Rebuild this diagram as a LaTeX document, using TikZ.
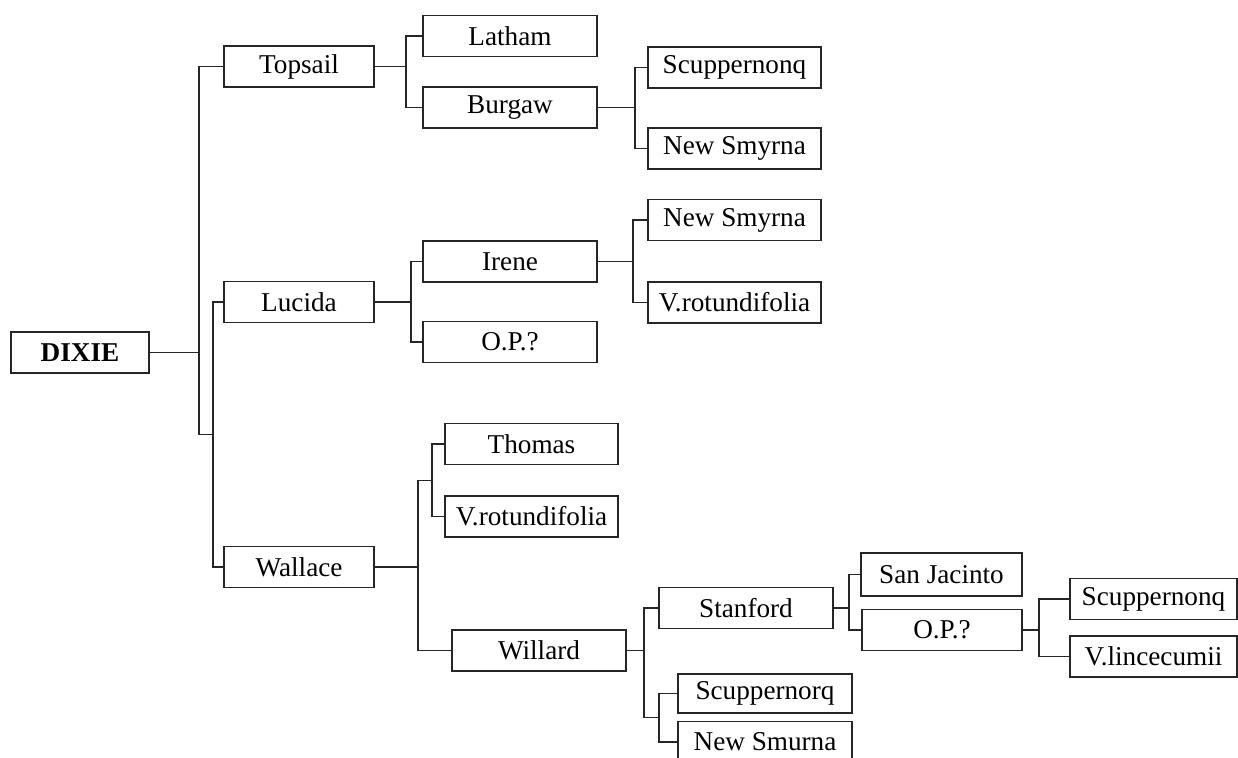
\documentclass[tikz,border=0pt]{standalone}
\usepackage{fontspec}
\setmainfont{Liberation Serif}
\begin{document}
\begin{tikzpicture}[x=0.5pt,y=-0.5pt,line width=0.65pt,draw=black!85]
      \useasboundingbox (0,0) rectangle (1238,758);
      \tikzstyle{every node} = [draw, rectangle, inner sep = 0pt, minimum height = 20.5pt, font=\fontsize{13.6}{15}\selectfont]

      \node[minimum width=69pt](dixie) at (80,352.5) {\bfseries DIXIE};

      % first generation
      \foreach \n/\y/\t in {topsail/66.5/Topsail, lucida/302/Lucida, wallace/567/Wallace}{
          \node[minimum width=75pt](\n) at (299,\y) {\t};
      }
      \foreach \n/\y/\t in {latham/36/Latham, burgaw/107.5/Burgaw, irene/261.5/Irene, op1/342/O.P.?}{
          \node[minimum width=87pt](\n) at (510,\y) {\t};
      }
      \foreach \n/\y/\t in {scup1/67.5/Scuppernonq, smyrna1/148.5/New Smyrna, smyrna2/220/New Smyrna, rotund1/302.5/V.rotundifolia}{
          \node[minimum width=86.5pt](\n) at (734.5,\y) {\t};
      }
      \foreach \n/\y/\t in {thomas/444/Thomas, rotund2/516.5/V.rotundifolia}{
          \node[minimum width=86.5pt](\n) at (531.5,\y) {\t};
      }
      \node[minimum width=87pt](willard) at (539,650.5) {Willard};
      \node[minimum width=87pt](stanford) at (746,608) {Stanford};
      \node[minimum width=87pt, minimum height=19.5pt](scup2) at (765,693.5) {Scuppernorq};
      \node[minimum width=87pt](smurna) at (765,742) {New Smurna};
      \node[minimum width=80.5pt, minimum height=21.5pt](sanjac) at (941.5,574.5) {San Jacinto};
      \node[minimum width=80pt](op2) at (942,630) {O.P.?};
      \foreach \n/\y/\t in {scup3/599/Scuppernonq, lince/656.5/V.lincecumii}{
          \node[minimum width=83.5pt](\n) at (1153.5,\y) {\t};
      }

      % bracket knees
      \coordinate (k0) at (199,434.5);
      \coordinate (k1) at (213,434.5);
      \coordinate (k2) at (406,0);
      \coordinate (k3) at (635,0);
      \coordinate (k4) at (411,0);
      \coordinate (k5) at (633,0);
      \coordinate (k6) at (418,480.25);
      \coordinate (k7) at (432,480.25);
      \coordinate (k8) at (644,717.75);
      \coordinate (k9) at (659,717.75);
      \coordinate (k10) at (849,0);
      \coordinate (k11) at (1039,0);

      \draw (dixie.east) -- (dixie.east -| k0);
      \draw (topsail.west) -| (k0) -- (k1);
      \draw (lucida.west) -| (k1) |- (wallace.west);

      \draw (topsail.east) -- (topsail.east -| k2);
      \draw (latham.west) -| (k2 |- burgaw.west) -- (burgaw.west);
      \draw (burgaw.east) -- (burgaw.east -| k3);
      \draw (scup1.west) -| (k3 |- smyrna1.west) -- (smyrna1.west);

      \draw (lucida.east) -- (lucida.east -| k4);
      \draw (irene.west) -| (k4 |- op1.west) -- (op1.west);
      \draw (irene.east) -- (irene.east -| k5);
      \draw (smyrna2.west) -| (k5 |- rotund1.west) -- (rotund1.west);

      \draw (wallace.east) -- (wallace.east -| k6);
      \draw (k7) -- (k6) |- (willard.west);
      \draw (thomas.west) -| (k7) |- (rotund2.west);

      \draw (willard.east) -- (willard.east -| k8);
      \draw (stanford.west) -| (k8) -- (k9);
      \draw (scup2.west) -| (k9) |- (smurna.west);

      \draw (stanford.east) -- (stanford.east -| k10);
      \draw (sanjac.west) -| (k10 |- op2.west) -- (op2.west);
      \draw (op2.east) -- (op2.east -| k11);
      \draw (scup3.west) -| (k11 |- lince.west) -- (lince.west);
    \end{tikzpicture}
\end{document}
